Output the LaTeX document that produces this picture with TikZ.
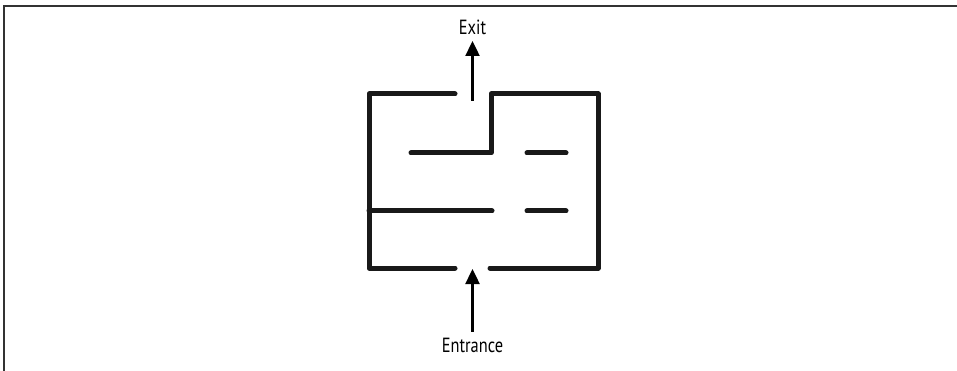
\documentclass[tikz,border=0pt]{standalone}
\usepackage{fontspec}
\setmainfont[FakeStretch=0.8]{PT Sans}
\usetikzlibrary{arrows.meta}
\begin{document}
\begin{tikzpicture}[x=1pt,y=-1pt,
  wall/.style={line width=5pt,line cap=round,line join=round,color=black!90},
  pointer/.style={line width=2.4pt,-{Triangle[width=14pt,length=15pt]}},
  lbl/.style={font=\fontsize{20.5}{22}\selectfont,inner sep=0pt},
  frameline/.style={line width=1.6pt,color=black!80}]
\useasboundingbox (0,0) rectangle (957,371);
\draw[frameline] (4,371) -- (4,6) -- (957,6);
% walls
\draw[wall] (455,94) -- (369,94) -- (369,268) -- (455,268);
\draw[wall] (411,153) -- (491,153) -- (491,94) -- (598,94) -- (598,268) -- (490,268);
\draw[wall] (369,211) -- (492,211);
\draw[wall] (527,153) -- (566,153);
\draw[wall] (527,211) -- (566,211);
% labels and arrows
\node[lbl] (exit) at (472.5,27) {Exit};
\node[lbl] (entrance) at (472.5,345) {Entrance};
\coordinate (exitfoot) at (472.5,101);
\coordinate (entrytip) at (472.5,269);
\draw[pointer] (exitfoot) -- (472.5,41);
\draw[pointer] (entrance.north) ++(0,-6) -- (entrytip);
\end{tikzpicture}
\end{document}
